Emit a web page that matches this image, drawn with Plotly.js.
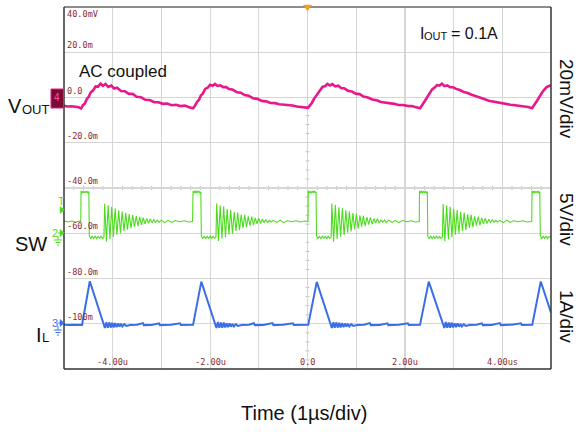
<!DOCTYPE html>
<html>
<head>
<meta charset="utf-8">
<script src="https://cdn.plot.ly/plotly-3.0.1.min.js"></script>
<style>html,body{margin:0;padding:0;background:#fff;}#chart{width:579px;height:432px;}</style>
</head>
<body>
<div id="chart"></div>
<script>
// ---- Axis tick labels (scope readout) ----
const xTickVals = [-4, -2, 0, 2, 4];
const xTickText = ['-4.00u', '-2.00u', '0.0', '2.00u', '4.00us'];
const yTickVals = [40, 20, 0, -20, -40, -60, -80, -100];
const yTickText = ['40.0mV', '20.0m', '0.0', '-20.0m', '-40.0m', '-60.0m', '-80.0m', '-100m'];

// ---- VOUT (AC coupled), time in us, value in screen mV ----
const voutT = [
  -5.00, -4.92, -4.84, -4.76, -4.70,
  -4.65, -4.61, -4.57, -4.53, -4.49, -4.45, -4.40, -4.35, -4.30, -4.25, -4.20, -4.15, -4.09, -4.03, -3.97, -3.91, -3.83, -3.75, -3.67, -3.59, -3.51, -3.42, -3.33, -3.24, -3.15, -3.06, -2.97, -2.88, -2.79, -2.70, -2.61, -2.52, -2.43,
  -2.35, -2.31, -2.27, -2.23, -2.19, -2.15, -2.10, -2.05, -2.00, -1.95, -1.90, -1.85, -1.79, -1.73, -1.67, -1.61, -1.53, -1.45, -1.37, -1.29, -1.21, -1.12, -1.03, -0.94, -0.85, -0.76, -0.67, -0.58, -0.49, -0.40, -0.31, -0.22, -0.13,
  0.01, 0.05, 0.09, 0.13, 0.17, 0.21, 0.26, 0.31, 0.36, 0.41, 0.46, 0.51, 0.57, 0.63, 0.69, 0.75, 0.83, 0.91, 0.99, 1.07, 1.15, 1.24, 1.33, 1.42, 1.51, 1.60, 1.69, 1.78, 1.87, 1.96, 2.05, 2.14, 2.23,
  2.31, 2.35, 2.39, 2.43, 2.47, 2.51, 2.56, 2.61, 2.66, 2.71, 2.76, 2.81, 2.87, 2.93, 2.99, 3.05, 3.13, 3.21, 3.29, 3.37, 3.45, 3.54, 3.63, 3.72, 3.81, 3.90, 3.99, 4.08, 4.17, 4.26, 4.35, 4.44, 4.53,
  4.61, 4.65, 4.69, 4.73, 4.77, 4.81, 4.86, 4.91, 4.96, 5.00
];
const voutV = [
  -3.7, -4.0, -3.9, -4.2, -4.3,
  -4.9, -3.4, -2.6, -0.6, 0.4, 2.3, 3.2, 4.9, 4.8, 6.1, 5.2, 6.0, 4.7, 5.3, 4.0, 4.3, 2.9, 2.8, 1.6, 1.6, 0.3, 0.1, -1.0, -1.1, -2.1, -2.1, -2.8, -2.7, -3.4, -3.2, -3.8, -3.6, -4.3,
  -4.8, -3.7, -2.0, -1.1, 0.9, 1.7, 3.8, 4.3, 5.6, 5.2, 6.0, 5.1, 5.4, 4.6, 4.6, 3.7, 3.4, 2.3, 2.1, 1.1, 0.8, -0.3, -0.6, -1.5, -1.7, -2.4, -2.5, -3.0, -3.1, -3.5, -3.5, -4.0, -4.2,
  -4.6, -3.5, -2.4, -0.7, 0.5, 2.1, 3.3, 4.8, 5.0, 6.0, 5.3, 5.9, 4.9, 5.2, 4.2, 4.1, 3.0, 2.7, 1.7, 1.5, 0.4, 0.0, -0.9, -1.2, -2.0, -2.2, -2.7, -2.8, -3.3, -3.3, -3.7, -3.8, -4.3,
  -4.8, -3.5, -2.1, -1.0, 0.8, 1.8, 3.6, 4.4, 5.5, 5.3, 6.1, 5.0, 5.3, 4.5, 4.5, 3.8, 3.3, 2.4, 2.0, 1.2, 0.7, -0.2, -0.7, -1.4, -1.8, -2.3, -2.6, -2.9, -3.2, -3.4, -3.6, -3.9, -4.2,
  -4.7, -3.6, -2.2, -0.8, 0.7, 2.0, 3.4, 4.6, 5.1, 5.4
];

// ---- SW node, time in us, value in screen units ----
const swT = [
  -5.00, -4.92, -4.84, -4.76, -4.68, -4.655,
  -4.650, -4.630, -4.610, -4.590, -4.570, -4.550, -4.530, -4.510, -4.490,
  -4.480, -4.450, -4.420, -4.390, -4.360, -4.330, -4.300, -4.270, -4.240, -4.210, -4.180,
  -4.165, -4.129, -4.093, -4.057, -4.021, -3.985, -3.949, -3.913, -3.877, -3.841, -3.805, -3.769, -3.733, -3.697, -3.661, -3.625, -3.589, -3.553, -3.517, -3.481, -3.445, -3.409, -3.373, -3.337, -3.301, -3.265, -3.229, -3.193, -3.157, -3.121, -3.085, -3.049,
  -3.000, -2.930, -2.860, -2.790, -2.720,
  -2.620, -2.530, -2.440, -2.360,
  -2.350, -2.330, -2.310, -2.290, -2.270, -2.250, -2.230, -2.210, -2.190,
  -2.180, -2.150, -2.120, -2.090, -2.060, -2.030, -2.000, -1.970, -1.940, -1.910, -1.880,
  -1.865, -1.829, -1.793, -1.757, -1.721, -1.685, -1.649, -1.613, -1.577, -1.541, -1.505, -1.469, -1.433, -1.397, -1.361, -1.325, -1.289, -1.253, -1.217, -1.181, -1.145, -1.109, -1.073, -1.037, -1.001, -0.965, -0.929, -0.893, -0.857, -0.821, -0.785, -0.749,
  -0.700, -0.630, -0.560, -0.490, -0.420,
  -0.320, -0.230, -0.140, -0.060, 0.010,
  0.015, 0.035, 0.055, 0.075, 0.095, 0.115, 0.135, 0.155, 0.175,
  0.185, 0.215, 0.245, 0.275, 0.305, 0.335, 0.365, 0.395, 0.425, 0.455, 0.485,
  0.500, 0.536, 0.572, 0.608, 0.644, 0.680, 0.716, 0.752, 0.788, 0.824, 0.860, 0.896, 0.932, 0.968, 1.004, 1.040, 1.076, 1.112, 1.148, 1.184, 1.220, 1.256, 1.292, 1.328, 1.364, 1.400, 1.436, 1.472, 1.508, 1.544, 1.580, 1.616,
  1.665, 1.735, 1.805, 1.875, 1.945,
  2.040, 2.130, 2.220, 2.295,
  2.300, 2.320, 2.340, 2.360, 2.380, 2.400, 2.420, 2.440, 2.460,
  2.470, 2.500, 2.530, 2.560, 2.590, 2.620, 2.650, 2.680, 2.710, 2.740, 2.770,
  2.785, 2.821, 2.857, 2.893, 2.929, 2.965, 3.001, 3.037, 3.073, 3.109, 3.145, 3.181, 3.217, 3.253, 3.289, 3.325, 3.361, 3.397, 3.433, 3.469, 3.505, 3.541, 3.577, 3.613, 3.649, 3.685, 3.721, 3.757, 3.793, 3.829, 3.865, 3.901,
  3.950, 4.020, 4.090, 4.160, 4.230,
  4.330, 4.420, 4.510, 4.605,
  4.610, 4.630, 4.650, 4.670, 4.690, 4.710, 4.730, 4.750, 4.770,
  4.780, 4.810, 4.840, 4.870, 4.900, 4.930, 4.960, 5.000
];
const swV = [
  -54.5, -55.0, -54.6, -55.0, -54.6, -54.8,
  -41.2, -42.3, -41.3, -42.2, -41.4, -42.1, -41.3, -42.2, -41.6,
  -61.2, -62.4, -61.3, -62.3, -61.2, -62.4, -61.4, -62.2, -61.3, -62.4, -61.8,
  -47.0, -63.6, -47.6, -62.6, -48.4, -61.6, -49.1, -60.7, -49.8, -59.9, -50.4, -59.1, -51.0, -58.4, -51.5, -57.8, -52.0, -57.2, -52.4, -56.7, -52.8, -56.3, -53.1, -55.9, -53.4, -55.6, -53.7, -55.4, -54.0, -55.2, -54.2, -55.1,
  -54.2, -55.3, -54.3, -55.2, -54.4,
  -54.9, -54.5, -55.0, -54.8,
  -41.3, -42.2, -41.2, -42.3, -41.4, -42.0, -41.3, -42.2, -41.7,
  -61.3, -62.3, -61.2, -62.4, -61.3, -62.3, -61.2, -62.3, -61.4, -62.2, -61.7,
  -46.8, -63.4, -47.8, -62.3, -48.2, -61.8, -49.3, -60.5, -49.6, -60.1, -50.6, -59.0, -50.8, -58.6, -51.7, -57.6, -51.8, -57.3, -52.5, -56.6, -52.6, -56.4, -53.2, -55.8, -53.3, -55.7, -53.8, -55.3, -53.9, -55.3, -54.3, -55.0,
  -54.3, -55.2, -54.2, -55.3, -54.5,
  -54.9, -54.5, -55.0, -54.6, -54.8,
  -41.2, -42.2, -41.4, -42.3, -41.3, -42.1, -41.2, -42.2, -41.6,
  -61.2, -62.3, -61.4, -62.4, -61.2, -62.2, -61.3, -62.4, -61.2, -62.3, -61.8,
  -46.9, -63.7, -47.5, -62.5, -48.5, -61.5, -49.0, -60.8, -49.9, -59.8, -50.3, -59.2, -51.1, -58.3, -51.4, -57.9, -52.1, -57.1, -52.3, -56.8, -52.9, -56.2, -53.0, -56.0, -53.5, -55.5, -53.6, -55.5, -54.1, -55.1, -54.1, -55.2,
  -54.2, -55.2, -54.3, -55.3, -54.4,
  -54.9, -54.5, -55.0, -54.8,
  -41.3, -42.3, -41.2, -42.2, -41.4, -42.1, -41.3, -42.3, -41.6,
  -61.3, -62.4, -61.2, -62.3, -61.3, -62.4, -61.2, -62.2, -61.4, -62.3, -61.7,
  -47.1, -63.5, -47.7, -62.7, -48.3, -61.7, -49.2, -60.6, -49.7, -60.0, -50.5, -59.0, -50.9, -58.5, -51.6, -57.7, -51.9, -57.3, -52.5, -56.6, -52.7, -56.4, -53.2, -55.8, -53.3, -55.7, -53.8, -55.3, -53.9, -55.2, -54.3, -55.0,
  -54.3, -55.3, -54.2, -55.2, -54.5,
  -54.9, -54.5, -55.0, -54.8,
  -41.2, -42.3, -41.3, -42.2, -41.4, -42.1, -41.3, -42.2, -41.6,
  -61.2, -62.4, -61.3, -62.3, -61.2, -62.4, -61.4, -62.0
];

// ---- Inductor current IL, time in us, value in screen units ----
const ilT = [
  -5.00, -4.90, -4.80, -4.70, -4.63,
  -4.47, -4.16,
  -4.13, -4.10, -4.07, -4.04, -4.01, -3.98, -3.95, -3.92, -3.89, -3.86, -3.83, -3.80, -3.76, -3.72,
  -3.64, -3.50, -3.38, -3.36, -3.20, -3.05, -3.03, -2.80, -2.62, -2.60, -2.35,
  -2.18, -1.87,
  -1.84, -1.81, -1.78, -1.75, -1.72, -1.69, -1.66, -1.63, -1.60, -1.57, -1.54, -1.51, -1.47, -1.43,
  -1.35, -1.20, -1.10, -1.08, -0.90, -0.72, -0.70, -0.50, -0.30, -0.28, 0.015,
  0.19, 0.50,
  0.53, 0.56, 0.59, 0.62, 0.65, 0.68, 0.71, 0.74, 0.77, 0.80, 0.83, 0.86, 0.90, 0.94,
  1.02, 1.16, 1.28, 1.30, 1.48, 1.64, 1.66, 1.88, 2.06, 2.08, 2.31,
  2.49, 2.81,
  2.84, 2.87, 2.90, 2.93, 2.96, 2.99, 3.02, 3.05, 3.08, 3.11, 3.14, 3.17, 3.21, 3.25,
  3.33, 3.47, 3.58, 3.60, 3.78, 3.95, 3.97, 4.20, 4.38, 4.40, 4.615,
  4.79, 5.00
];
const ilV = [
  -100.4, -100.6, -100.4, -100.6, -100.5,
  -81.2, -101.9,
  -99.3, -101.8, -99.4, -101.7, -99.6, -101.6, -99.7, -101.5, -99.9, -101.3, -100.0, -101.2, -100.2, -101.0,
  -100.6, -100.4, -99.7, -100.6, -100.5, -99.8, -100.6, -100.4, -99.8, -100.6, -100.5,
  -81.4, -101.9,
  -99.2, -101.8, -99.5, -101.7, -99.5, -101.6, -99.8, -101.5, -99.8, -101.3, -100.1, -101.2, -100.2, -101.0,
  -100.6, -100.4, -99.8, -100.6, -100.5, -99.7, -100.6, -100.4, -99.8, -100.6, -100.5,
  -81.5, -101.9,
  -99.3, -101.8, -99.4, -101.7, -99.6, -101.6, -99.7, -101.5, -99.9, -101.3, -100.0, -101.2, -100.2, -101.0,
  -100.6, -100.4, -99.7, -100.6, -100.5, -99.8, -100.6, -100.4, -99.8, -100.6, -100.5,
  -81.4, -101.9,
  -99.2, -101.8, -99.5, -101.7, -99.5, -101.6, -99.8, -101.5, -99.8, -101.3, -100.1, -101.2, -100.2, -101.0,
  -100.6, -100.4, -99.8, -100.6, -100.5, -99.7, -100.6, -100.4, -99.8, -100.6, -100.5,
  -81.3, -95.1
];

// ---- page geometry helpers (pixel -> paper) ----
const PL = 64, PR = 551, PT = 7, PB = 369;
const W = 579, H = 432;
function px(x) { return (x - PL) / (PR - PL); }
function py(y) { return (PB - y) / (PB - PT); }

const SANS = 'Arial, "Liberation Sans", sans-serif';
const MONO = '"DejaVu Sans Mono", "Liberation Mono", monospace';
const LBL = '#8b2d2d';
const PINK = '#e8188c', GREEN = '#4cdc1e', BLUE = '#3b6ee6';

const traces = [
  { x: voutT, y: voutV, type: 'scatter', mode: 'lines', line: { color: PINK, width: 2.6 }, hoverinfo: 'skip' },
  { x: swT, y: swV, type: 'scatter', mode: 'lines', line: { color: GREEN, width: 1.1 }, hoverinfo: 'skip' },
  { x: ilT, y: ilV, type: 'scatter', mode: 'lines', line: { color: BLUE, width: 2 }, hoverinfo: 'skip' }
];

const annotations = [];
// scope graticule readouts inside the plot
yTickVals.forEach((v, i) => {
  annotations.push({
    xref: 'paper', yref: 'y', x: px(65), y: v, xanchor: 'left',
    yanchor: i === 0 ? 'top' : 'bottom', text: yTickText[i], showarrow: false,
    font: { family: MONO, size: 8.6, color: LBL }
  });
});
xTickVals.forEach((v, i) => {
  annotations.push({
    xref: 'x', yref: 'paper', x: v, y: py(369), xanchor: 'center', yanchor: 'bottom',
    text: xTickText[i], showarrow: false, font: { family: MONO, size: 8.6, color: LBL }
  });
});
// text labels (x = left edge px, y = vertical centre px)
function txt(text, x, y, size, opts) {
  annotations.push(Object.assign({
    xref: 'paper', yref: 'paper', x: px(x), y: py(y), text: text, showarrow: false,
    xanchor: 'left', yanchor: 'middle', font: { family: SANS, size: size, color: '#111' }
  }, opts || {}));
}
// V_OUT
txt('V', 6, 105.5, 20);
txt('OUT', 19.5, 109.5, 13);
// SW
txt('SW', 13, 244, 20);
// I_L
txt('I', 34, 334.5, 20);
txt('L', 39.5, 337.5, 13);
// AC coupled
txt('AC coupled', 77, 71, 17);
// I_OUT = 0.1A
txt('I', 417.5, 33, 16);
txt('OUT', 421.5, 35.5, 11);
txt('= 0.1A', 449, 33, 16);
// per-division labels on the right
txt('20mV/div', 567, 99, 19, { xanchor: 'center', textangle: 90 });
txt('5V/div', 567, 219, 19, { xanchor: 'center', textangle: 90 });
txt('1A/div', 567, 316, 19, { xanchor: 'center', textangle: 90 });
// x axis caption
txt('Time (1µs/div)', 304, 413, 20, { xanchor: 'center' });
// channel markers
txt('4', 57, 98, 10, { xanchor: 'center', font: { family: SANS, size: 10, color: '#ff4fb0' } });
txt('T', 61, 201, 11, { xanchor: 'center', font: { family: SANS, size: 11, color: GREEN } });
txt('2', 55, 233, 11, { xanchor: 'center', font: { family: SANS, size: 11, color: GREEN } });
txt('3', 55, 323, 11, { xanchor: 'center', font: { family: SANS, size: 11, color: BLUE } });

const shapes = [];
function pline(x0, y0, x1, y1, color, width) {
  shapes.push({ type: 'line', xref: 'paper', yref: 'paper', x0: px(x0), y0: py(y0), x1: px(x1), y1: py(y1),
    line: { color: color, width: width }, layer: 'above' });
}
function ptri(pts, color) {
  const d = 'M' + pts.map(p => px(p[0]) + ',' + py(p[1])).join(' L') + ' Z';
  shapes.push({ type: 'path', xref: 'paper', yref: 'paper', path: d, fillcolor: color,
    line: { color: color, width: 0.5 }, layer: 'above' });
}
// frame
pline(PL, PT, PR, PT, '#8c8c8c', 2);
pline(PL, PB, PR, PB, '#333', 1.5);
pline(PL, PT, PL, PB, '#333', 1.5);
pline(PR, PT, PR, PB, '#333', 1.5);
// center-cross minor ticks
for (let k = -25; k <= 25; k++) {
  if (k % 5 === 0) continue;
  const t = k * 0.2;
  shapes.push({ type: 'line', xref: 'x', yref: 'y', x0: t, x1: t, y0: -40.9, y1: -39.1, line: { color: '#bdbdbd', width: 1 }, layer: 'below' });
}
for (let k = -40; k <= 10; k++) {
  if (k % 5 === 0) continue;
  const v = -40 + k * 4;
  shapes.push({ type: 'line', xref: 'x', yref: 'y', x0: -0.04, x1: 0.04, y0: v, y1: v, line: { color: '#bdbdbd', width: 1 }, layer: 'below' });
}
// trigger position marker at top
ptri([[303.5, 5], [311.5, 5], [307.5, 11]], '#f0a020');
// channel 4 marker box
shapes.push({ type: 'rect', xref: 'paper', yref: 'paper', x0: px(51), x1: px(63.5), y0: py(108), y1: py(89),
  fillcolor: '#7c0b33', line: { color: '#e8188c', width: 1 }, layer: 'above' });
// trigger level and channel arrows
ptri([[60, 206.5], [60, 213.5], [64.5, 210]], GREEN);
ptri([[60, 229.5], [60, 236.5], [64.5, 233]], GREEN);
ptri([[60, 319.5], [60, 326.5], [64.5, 323]], BLUE);
// ground symbols
function ground(x, y, color) {
  pline(x, y, x, y + 4, color, 1);
  pline(x - 4, y + 4, x + 4, y + 4, color, 1);
  pline(x - 2.5, y + 6.5, x + 2.5, y + 6.5, color, 1);
  pline(x - 1, y + 9, x + 1, y + 9, color, 1);
}
ground(58, 236, GREEN);
ground(58, 326, BLUE);
pline(58, 233, 61, 233, GREEN, 1);
pline(58, 323, 61, 323, BLUE, 1);

const layout = {
  width: W, height: H,
  margin: { l: PL, r: W - PR, t: PT, b: H - PB, pad: 0 },
  paper_bgcolor: '#ffffff', plot_bgcolor: '#ffffff',
  showlegend: false,
  xaxis: { range: [-5, 5], dtick: 1, tick0: 0, showgrid: true, gridcolor: '#d6d6d6', gridwidth: 1.2,
    zeroline: false, showticklabels: false, ticks: '', showline: false, fixedrange: true },
  yaxis: { range: [-120, 40], dtick: 20, tick0: 0, showgrid: true, gridcolor: '#d6d6d6', gridwidth: 1.2,
    zeroline: false, showticklabels: false, ticks: '', showline: false, fixedrange: true },
  annotations: annotations,
  shapes: shapes
};

Plotly.newPlot('chart', traces, layout, { staticPlot: true, displayModeBar: false });
</script>
</body>
</html>
